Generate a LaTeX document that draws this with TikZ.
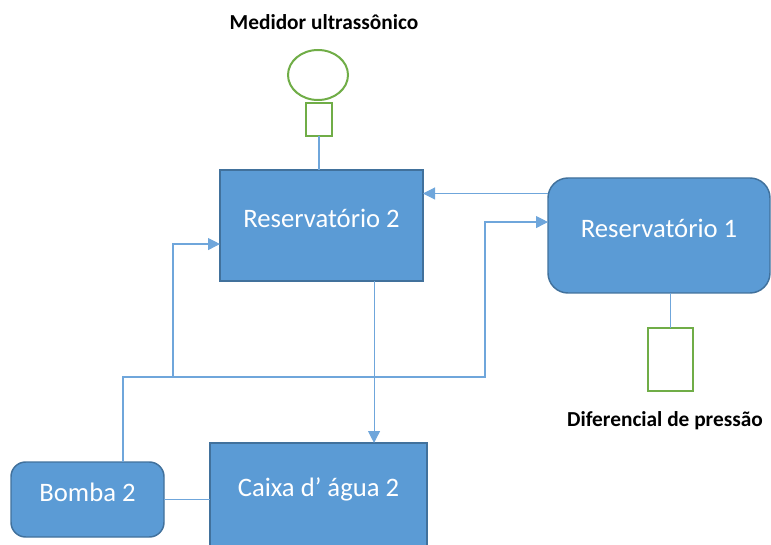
\documentclass[tikz,border=0pt]{standalone}
\usepackage{fontspec}
\setmainfont{Carlito}
\usetikzlibrary{shapes,arrows.meta,positioning}

\definecolor{boxfill}{HTML}{5B9BD5}
\definecolor{boxline}{HTML}{41719C}
\definecolor{pipecol}{HTML}{6FA6DB}
\definecolor{sensor}{HTML}{70AD47}

\begin{document}
\begin{tikzpicture}[x=0.75pt,y=-0.75pt,
		tank/.style={draw=boxline,line width=1.1pt,fill=boxfill,text=white,inner sep=0pt,outer sep=0pt,
			text height=14pt,text depth=11.5pt,font=\fontsize{20}{24}\selectfont},
		sens/.style={draw=sensor,line width=1.5pt,inner sep=0pt,outer sep=0pt},
		lbl/.style={font=\fontsize{16}{19}\selectfont\bfseries},
		pipe/.style={draw=pipecol,line width=0.8pt},
		flow/.style={pipe,-{Triangle[length=9pt,width=9pt]}}]
			\useasboundingbox (0,0) rectangle (771,545);

			\node[tank,minimum width=152.25pt,minimum height=83.25pt] (res2) at (321.5,225.5) {Reservatório 2};
			\node[tank,rounded corners=15pt,minimum width=166.5pt,minimum height=86.25pt] (res1) at (659,235.5) {Reservatório 1};
			\node[tank,rounded corners=11pt,minimum width=114.75pt,minimum height=56.25pt] (bomba) at (87.5,499.5) {Bomba 2};
			\node[tank,minimum width=162.75pt,minimum height=78pt] (caixa) at (318.5,495) {Caixa d’ água 2};

			\node[sens,ellipse,minimum width=45pt,minimum height=37.5pt] (eco) at (318,75) {};
			\node[sens,minimum width=19.5pt,minimum height=24.75pt] (medbox) at (319,119.5) {};
			\node[sens,minimum width=33.75pt,minimum height=47.25pt] (difbox) at (670.5,359.5) {};
			\node[lbl] (medlbl) at (324,22) {Medidor ultrassônico};
			\node[lbl] (diflbl) at (665,421) {Diferencial de pressão};

			\coordinate (split) at (173,377);
			\coordinate (riser) at (485,377);

			\draw[pipe] (medbox.south) -- (medbox.south |- res2.north);
			\draw[pipe] (difbox.north) -- (difbox.north |- res1.south);
			\draw[flow] ([yshift=31.5pt]res1.west) coordinate (a) -- (a -| res2.east);
			\draw[flow] ([xshift=26.6pt]bomba.north) |- (riser) |- ([yshift=10.1pt]res1.west);
			\draw[flow] (split) |- ([yshift=-13.9pt]res2.west);
			\draw[flow] ([xshift=39.4pt]res2.south) coordinate (b) -- (b |- caixa.north);
			\draw[pipe] (bomba.east) -- (bomba.east -| caixa.west);
\end{tikzpicture}
\end{document}
